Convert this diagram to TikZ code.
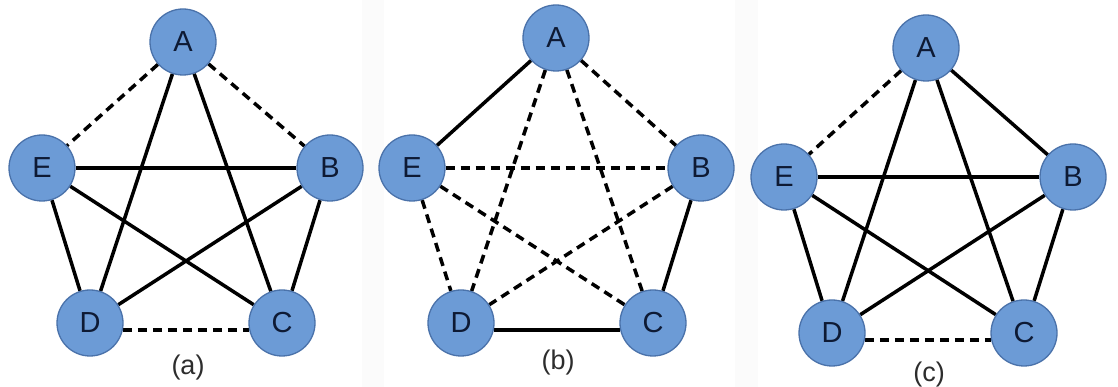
\documentclass[tikz,border=0pt]{standalone}
\usepackage{fontspec}
\setmainfont{Liberation Sans}
\usetikzlibrary{backgrounds}
\definecolor{nodefill}{RGB}{108,155,214}
\definecolor{nodeline}{RGB}{74,114,170}
\definecolor{nodetext}{RGB}{14,26,52}
\definecolor{captext}{RGB}{45,45,45}
\tikzset{
  vtx/.style={circle, fill=nodefill, draw=nodeline, line width=1.3pt, minimum size=66pt, inner sep=0pt, text=nodetext, font=\fontsize{29}{29}\selectfont},
  captionlabel/.style={text=captext, font=\fontsize{27}{27}\selectfont, inner sep=0pt},
  solidedge/.style={line width=3.5pt, black},
  dashededge/.style={line width=3.5pt, black, dash pattern=on 9pt off 6pt},
}
\begin{document}
\begin{tikzpicture}[x=1pt,y=1pt]
\useasboundingbox (0,0) rectangle (1118,387);
% panel (a)
\node[vtx] (aA) at (183,345) {A};
\node[vtx] (aB) at (330,219) {B};
\node[vtx] (aC) at (282,64) {C};
\node[vtx] (aD) at (90,64) {D};
\node[vtx] (aE) at (42,219) {E};
\node[captionlabel] (acap) at (188,19) {(a)};
% panel (b)
\node[vtx] (bA) at (556,349) {A};
\node[vtx] (bB) at (701,219) {B};
\node[vtx] (bC) at (653,64) {C};
\node[vtx] (bD) at (461,64) {D};
\node[vtx] (bE) at (412,219) {E};
\node[captionlabel] (bcap) at (558,24) {(b)};
% panel (c)
\node[vtx] (cA) at (926,339) {A};
\node[vtx] (cB) at (1073,210) {B};
\node[vtx] (cC) at (1024,54) {C};
\node[vtx] (cD) at (832,54) {D};
\node[vtx] (cE) at (784,210) {E};
\node[captionlabel] (ccap) at (929,12) {(c)};
\begin{scope}[on background layer]
\fill[white] (0,0) rectangle (1118,387);
\fill[gray!3] (362,0) rectangle (384,387);
\fill[gray!3] (735,0) rectangle (758,387);
% (a)
\draw[dashededge] (aA) -- (aE);
\draw[dashededge] (aA) -- (aB);
\draw[dashededge] (aD.-12) -- (aC.192);
\draw[solidedge] (aA) -- (aD);
\draw[solidedge] (aA) -- (aC);
\draw[solidedge] (aE) -- (aB);
\draw[solidedge] (aE) -- (aD);
\draw[solidedge] (aE) -- (aC);
\draw[solidedge] (aB) -- (aD);
\draw[solidedge] (aB) -- (aC);
% (b)
\draw[solidedge] (bA) -- (bE);
\draw[solidedge] (bB) -- (bC);
\draw[solidedge] (bD.-12) -- (bC.192);
\draw[dashededge] (bA) -- (bB);
\draw[dashededge] (bA) -- (bD);
\draw[dashededge] (bA) -- (bC);
\draw[dashededge] (bE) -- (bB);
\draw[dashededge] (bE) -- (bD);
\draw[dashededge] (bE) -- (bC);
\draw[dashededge] (bB) -- (bD);
% (c)
\draw[dashededge] (cA) -- (cE);
\draw[dashededge] (cD.-12) -- (cC.192);
\draw[solidedge] (cA) -- (cB);
\draw[solidedge] (cA) -- (cD);
\draw[solidedge] (cA) -- (cC);
\draw[solidedge] (cE) -- (cB);
\draw[solidedge] (cE) -- (cD);
\draw[solidedge] (cE) -- (cC);
\draw[solidedge] (cB) -- (cD);
\draw[solidedge] (cB) -- (cC);
\end{scope}
\end{tikzpicture}
\end{document}
